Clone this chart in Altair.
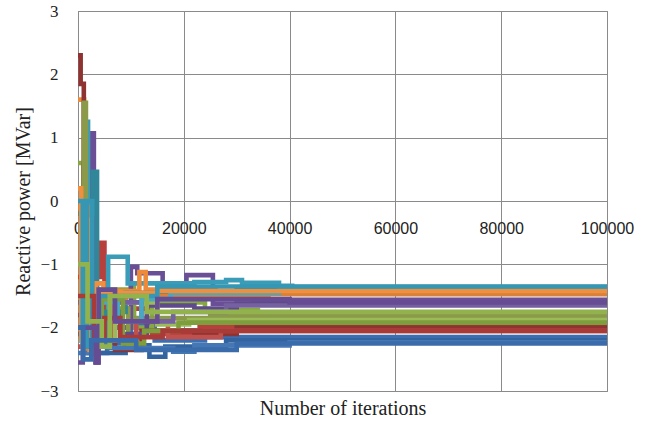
import altair as alt
import pandas as pd

# Reactive power set-point of each generator versus iteration count.
# Each list holds (iteration, MVar) breakpoints; values hold until the next breakpoint.
run_aqua1 = [(0, -0.5), (1300, 1.25), (1900, -2.0), (5700, -0.88), (9400, -1.30),
             (22000, -1.28), (28000, -1.25), (31000, -1.29), (38000, -1.34), (40500, -1.36), (100000, -1.36)]
run_teal1 = [(0, -0.2), (2800, 0.46), (3600, -2.30), (5200, -1.75), (9000, -1.45),
             (30000, -1.38), (100000, -1.39)]
run_orange1 = [(0, 1.6), (1150, -2.35), (1700, -1.45), (7800, -1.42), (11600, -1.12),
               (12800, -1.40), (26000, -1.45), (40000, -1.43), (100000, -1.43)]
run_orange2 = [(0, -0.1), (1800, -2.40), (2700, -1.50), (5000, -1.60), (9000, -1.50),
               (20000, -1.52), (36000, -1.47), (100000, -1.47)]
run_purple1 = [(0, -2.55), (900, -1.0), (2200, 1.07), (3000, -2.0), (10000, -1.04),
               (11200, -1.14), (16000, -1.30), (20500, -1.17), (25500, -1.62),
               (33000, -1.56), (100000, -1.55)]
run_purple2 = [(0, -1.8), (3400, -2.55), (3800, -1.80), (8000, -2.10), (13000, -1.65),
               (22000, -1.70), (30000, -1.62), (100000, -1.59)]
run_purple3 = [(0, -1.0), (1500, -2.30), (4200, -1.60), (12000, -1.90), (18000, -1.75),
               (28000, -1.65), (100000, -1.63)]
run_green1 = [(0, 0.6), (1000, -1.90), (4000, -1.40), (10000, -1.35), (10600, -2.00),
              (14000, -1.60), (24000, -1.72), (34000, -1.76), (100000, -1.76)]
run_olive1 = [(0, -0.5), (1100, 1.55), (1500, -2.10), (6000, -1.70), (9500, -2.30),
              (11000, -1.85), (25000, -1.82), (100000, -1.80)]
run_green2 = [(0, -1.5), (2500, -2.20), (7000, -1.60), (15000, -1.95), (21000, -1.88),
              (100000, -1.85)]
run_green3 = [(0, -2.0), (4500, -1.55), (8500, -2.25), (12500, -2.05), (19000, -1.92),
              (100000, -1.90)]
run_red1 = [(0, -1.2), (4200, -0.66), (5000, -2.00), (9500, -1.70), (14000, -2.10),
            (23000, -1.98), (100000, -1.96)]
run_maroon1 = [(0, 2.3), (500, 1.85), (1100, -2.30), (3200, -1.80), (7000, -2.35),
               (12000, -2.05), (22000, -2.10), (30000, -2.00), (100000, -2.00)]
run_red2 = [(0, -2.3), (2000, -1.50), (6500, -2.20), (11000, -1.90), (17000, -2.15),
            (27000, -2.05), (100000, -2.05)]
run_blue1 = [(0, -1.6), (1400, -2.40), (5500, -2.25), (10000, -1.95), (14500, -2.20),
             (24000, -2.15), (100000, -2.13)]
run_blue2 = [(0, -2.1), (3000, -2.40), (9000, -2.28), (13500, -2.46), (16500, -2.30),
             (28000, -2.20), (100000, -2.18)]
run_blue3 = [(0, -2.4), (2200, -1.90), (6000, -2.32), (18000, -2.38), (22000, -2.28),
             (40000, -2.23), (100000, -2.23)]
run_aqua2 = [(0, -2.2), (3600, -1.60), (7500, -1.90), (12000, -1.55), (17500, -1.45),
             (38000, -1.40), (100000, -1.40)]
run_orange3 = [(0, 0.2), (600, -2.20), (1400, -0.30), (2200, -2.35), (3400, -1.30),
               (4800, -1.45), (15000, -1.42), (100000, -1.45)]
run_aqua3 = [(0, 0.0), (900, -2.30), (1700, 0.0), (2700, -2.25), (4000, -1.50),
             (15000, -1.35), (100000, -1.38)]
run_red3 = [(0, -1.5), (3000, -2.20), (5000, -1.85), (8000, -2.15), (16000, -2.05),
            (100000, -2.08)]
run_purple4 = [(0, -2.0), (3300, -2.55), (3900, -1.40), (7000, -1.90), (15000, -1.55),
               (40000, -1.60), (100000, -1.60)]
run_green4 = [(0, -1.0), (1800, -1.90), (4500, -2.30), (6000, -1.50), (13000, -1.75),
              (100000, -1.72)]
run_blue4 = [(0, -2.0), (1000, -2.50), (2500, -2.20), (11000, -2.35), (30000, -2.25),
             (100000, -2.25)]

series = [
    ("blue1", "#3C6EB0", run_blue1),
    ("red1", "#B8403C", run_red1),
    ("green1", "#86A844", run_green1),
    ("purple1", "#6A4F96", run_purple1),
    ("aqua1", "#3B9CB8", run_aqua1),
    ("orange1", "#EC8A3A", run_orange1),
    ("blue2", "#34649F", run_blue2),
    ("maroon1", "#8E3331", run_maroon1),
    ("olive1", "#8A9A4A", run_olive1),
    ("purple2", "#5F4A8B", run_purple2),
    ("teal1", "#2F8799", run_teal1),
    ("orange2", "#D9803A", run_orange2),
    ("blue3", "#4677B5", run_blue3),
    ("red2", "#C0504D", run_red2),
    ("green2", "#9BBB59", run_green2),
    ("purple3", "#7560A0", run_purple3),
    ("aqua2", "#48A8C2", run_aqua2),
    ("green3", "#7E9E3E", run_green3),
    ("orange3", "#F0903F", run_orange3),
    ("aqua3", "#3597B3", run_aqua3),
    ("red3", "#A83B37", run_red3),
    ("purple4", "#664C92", run_purple4),
    ("green4", "#92B24E", run_green4),
    ("blue4", "#3A6BAA", run_blue4),
]

rows = []
for order, (name, _, pts) in enumerate(series):
    for it, q in pts:
        rows.append({"run": name, "k": order, "iter": it, "q": q})
df = pd.DataFrame(rows)

names = [s[0] for s in series]
colors = [s[1] for s in series]

GRID = "#8a8a8a"
TXT = "#222222"

chart = (
    alt.Chart(df)
    .mark_line(interpolate="step-after", strokeWidth=4.6, clip=True)
    .encode(
        x=alt.X(
            "iter:Q",
            scale=alt.Scale(domain=[0, 100000], nice=False),
            axis=alt.Axis(
                values=[0, 20000, 40000, 60000, 80000, 100000],
                format="d",
                offset=-190,
                ticks=False,
                grid=True,
                gridColor=GRID,
                domainColor=GRID,
                labelFont="Liberation Sans",
                labelFontSize=16,
                labelColor=TXT,
                labelPadding=19,
                labelFlush=False,
                labelOverlap=False,
                title="Number of iterations",
                titleFont="Liberation Serif",
                titleFontSize=20,
                titleFontWeight="normal",
                titleColor=TXT,
                titleX=264.5,
                titleY=207,
                titleBaseline="middle",
            ),
        ),
        y=alt.Y(
            "q:Q",
            scale=alt.Scale(domain=[-3, 3], nice=False),
            axis=alt.Axis(
                values=[-3, -2, -1, 0, 1, 2, 3],
                ticks=False,
                grid=True,
                gridColor=GRID,
                domainColor=GRID,
                labelFont="Liberation Serif",
                labelFontSize=17,
                labelColor=TXT,
                labelPadding=20,
                labelFlush=False,
                title="Reactive power [MVar]",
                titleFont="Liberation Serif",
                titleFontSize=20,
                titleFontWeight="normal",
                titleColor=TXT,
                titleAngle=270,
                titleX=-55,
                titleY=190,
                titleAlign="center",
                titleBaseline="middle",
            ),
        ),
        color=alt.Color("run:N", scale=alt.Scale(domain=names, range=colors), legend=None),
        order=alt.Order("k:Q"),
    )
    .properties(
        width=529,
        height=380,
        autosize=alt.AutoSizeParams(type="none"),
        padding={"left": 78, "top": 11, "right": 42, "bottom": 30},
        background="white",
    )
    .configure_view(stroke=GRID, strokeWidth=1)
)

chart.save("out.html", embed_options={"renderer": "svg", "actions": False})
